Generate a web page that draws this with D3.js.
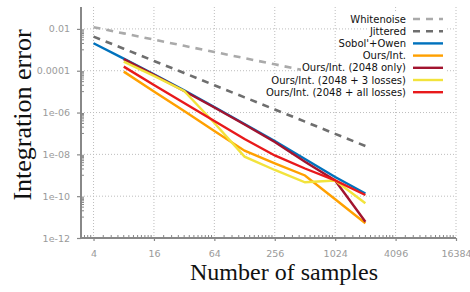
<!DOCTYPE html>
<html>
<head>
<meta charset="utf-8">
<style>
  body { margin: 0; background: #fff; }
  svg { display: block; font-family: "DejaVu Sans", sans-serif; }
</style>
</head>
<body>
<script src="https://d3js.org/d3.v7.min.js"></script>
<script>
// samples (x) for each group of series
var samplesAll = [4, 8, 16, 32, 64, 128, 256, 512, 1024, 2048];
var samplesOurs = [8, 16, 32, 64, 128, 256, 512, 1024, 2048];

// integration error
var whitenoise = [0.0121, 0.0061, 0.00308, 0.00155, 7.85e-4, 4.01e-4, 2.02e-4, 1.02e-4, 5.16e-5, 2.61e-5];
var jittered = [0.00428, 0.00113, 2.94e-4, 7.76e-5, 2.02e-5, 5.33e-6, 1.41e-6, 3.67e-7, 9.57e-8, 2.52e-8];
var sobolOwen = [2.07e-3, 3.79e-4, 6.65e-5, 1.17e-5, 1.85e-6, 2.85e-7, 4.38e-8, 6.03e-9, 8.3e-10, 1.35e-10];
var oursInt = [9.06e-5, 1.02e-5, 1.19e-6, 1.32e-7, 1.50e-8, 3.67e-9, 9.77e-10, 7.11e-11, 5.05e-12];
var ours2048 = [3.59e-4, 6.3e-5, 1.08e-5, 1.75e-6, 2.7e-7, 3.92e-8, 4.48e-9, 5.64e-10, 6.03e-12];
var ours3loss = [2.72e-4, 5.63e-5, 1.08e-5, 3.18e-7, 7.76e-9, 1.79e-9, 4.63e-10, 5.64e-10, 4.57e-11];
var oursAll = [1.57e-4, 2.09e-5, 2.88e-6, 3.96e-7, 5.46e-8, 8.85e-9, 2.11e-9, 5.64e-10, 1.14e-10];

var seriesNames = ["Whitenoise", "Jittered", "Sobol'+Owen", "Ours/Int.", "Ours/Int. (2048 only)",
  "Ours/Int. (2048 + 3 losses)", "Ours/Int. (2048 + all losses)"];

var xTicks = [4, 16, 64, 256, 1024, 4096, 16384];
var yTicks = [1e-12, 1e-10, 1e-8, 1e-6, 1e-4, 1e-2];
var yTickLabels = ["1e-12", "1e-10", "1e-08", "1e-06", "0.0001", "0.01"];

var w = 470, h = 292;
var svg = d3.select("body").append("svg").attr("width", w).attr("height", h);

var x = d3.scaleLog().base(2).domain([3, 16384]).range([81, 456]);
var y = d3.scaleLog().domain([1e-12, 0.1]).range([238, 8]);

var series = [
  { name: seriesNames[0], xs: samplesAll, ys: whitenoise, color: "#aaaaaa", dash: "7,6" },
  { name: seriesNames[1], xs: samplesAll, ys: jittered, color: "#6e6e6e", dash: "7,6" },
  { name: seriesNames[2], xs: samplesAll, ys: sobolOwen, color: "#0072bd", dash: null },
  { name: seriesNames[3], xs: samplesOurs, ys: oursInt, color: "#ffa000", dash: null },
  { name: seriesNames[4], xs: samplesOurs, ys: ours2048, color: "#a2142f", dash: null },
  { name: seriesNames[5], xs: samplesOurs, ys: ours3loss, color: "#f2e33c", dash: null },
  { name: seriesNames[6], xs: samplesOurs, ys: oursAll, color: "#e8191b", dash: null }
];

// grid
var grid = svg.append("g").attr("stroke", "#bdbdbd").attr("stroke-width", 1).attr("stroke-dasharray", "1,2");
grid.selectAll("line.gx").data(xTicks).enter().append("line")
  .attr("x1", function(d) { return x(d); }).attr("x2", function(d) { return x(d); })
  .attr("y1", 7).attr("y2", 238);
grid.selectAll("line.gy").data(yTicks).enter().append("line")
  .attr("x1", 81).attr("x2", 456)
  .attr("y1", function(d) { return y(d); }).attr("y2", function(d) { return y(d); });

// minor ticks
var xMinor = [];
[1, 4, 16, 64, 256, 1024, 4096].forEach(function(b) {
  for (var k = 1; k < 12; k++) { var v = b + k * b / 4; if (v > 3 && v < 16384) xMinor.push(v); }
});
var yMinor = [];
yTicks.forEach(function(b) {
  for (var k = 1; k < 10; k++) { var v = k * b * 10; if (v < 0.1) yMinor.push(v); }
});

// series
var line = d3.line().x(function(d) { return x(d[0]); }).y(function(d) { return y(d[1]); });
svg.append("g").selectAll("path").data(series).enter().append("path")
  .attr("d", function(s) { return line(d3.zip(s.xs, s.ys)); })
  .attr("fill", "none")
  .attr("stroke", function(s) { return s.color; })
  .attr("stroke-width", function(s) { return s.dash ? 2.6 : 2.4; })
  .attr("stroke-dasharray", function(s) { return s.dash; });

// axes
var xAxis = svg.append("g").attr("transform", "translate(0,238)")
  .call(d3.axisBottom(x).tickValues(xTicks).tickFormat(d3.format("d")).tickSize(3).tickPadding(9));
var yAxis = svg.append("g").attr("transform", "translate(81,0)")
  .call(d3.axisLeft(y).tickValues(yTicks).tickFormat(function(d, i) { return yTickLabels[i]; }).tickSize(4).tickPadding(7));
[xAxis, yAxis].forEach(function(a) {
  a.select(".domain").attr("stroke", "#888").attr("stroke-width", 2);
  a.selectAll(".tick line").attr("stroke", "#888").attr("stroke-width", 1.2);
  a.selectAll(".tick text").attr("fill", "#9a9a9a").style("font-size", "9.5px").style("font-family", "DejaVu Sans");
});
yAxis.select(".domain").attr("d", "M0,7V238");
xAxis.select(".domain").attr("d", "M81,0H456");

svg.append("g").attr("stroke", "#888").attr("stroke-width", 1)
  .selectAll("line").data(xMinor).enter().append("line")
  .attr("x1", function(d) { return x(d); }).attr("x2", function(d) { return x(d); })
  .attr("y1", 235).attr("y2", 238);
svg.append("g").attr("stroke", "#888").attr("stroke-width", 1)
  .selectAll("line").data(yMinor).enter().append("line")
  .attr("x1", 81).attr("x2", 84)
  .attr("y1", function(d) { return y(d); }).attr("y2", function(d) { return y(d); });

// legend (each row has its own white background)
var legend = svg.append("g");
series.forEach(function(s, i) {
  var cy = 19 + i * 12.2;
  var row = legend.append("g");
  var bg = row.append("rect").attr("fill", "#fff");
  var t = row.append("text").attr("x", 406).attr("y", cy).attr("dy", "0.35em")
    .attr("text-anchor", "end").style("font-size", "10px").attr("fill", "#111").text(s.name);
  var len = t.node().getComputedTextLength();
  bg.attr("x", 406 - len - 1).attr("y", cy - 6.1).attr("width", len + 42).attr("height", 12.2);
  row.append("line").attr("x1", 413).attr("x2", 443).attr("y1", cy).attr("y2", cy)
    .attr("stroke", s.color).attr("stroke-width", s.dash ? 2.6 : 2.4)
    .attr("stroke-dasharray", s.dash);
});

// axis titles
svg.append("text").attr("transform", "translate(31,115) rotate(-90)")
  .attr("text-anchor", "middle").style("font-family", "Liberation Serif, serif").style("font-size", "26px")
  .attr("fill", "#111").text("Integration error");
svg.append("text").attr("x", 284).attr("y", 280)
  .attr("text-anchor", "middle").style("font-family", "Liberation Serif, serif").style("font-size", "24px")
  .attr("fill", "#111").text("Number of samples");
</script>
</body>
</html>
